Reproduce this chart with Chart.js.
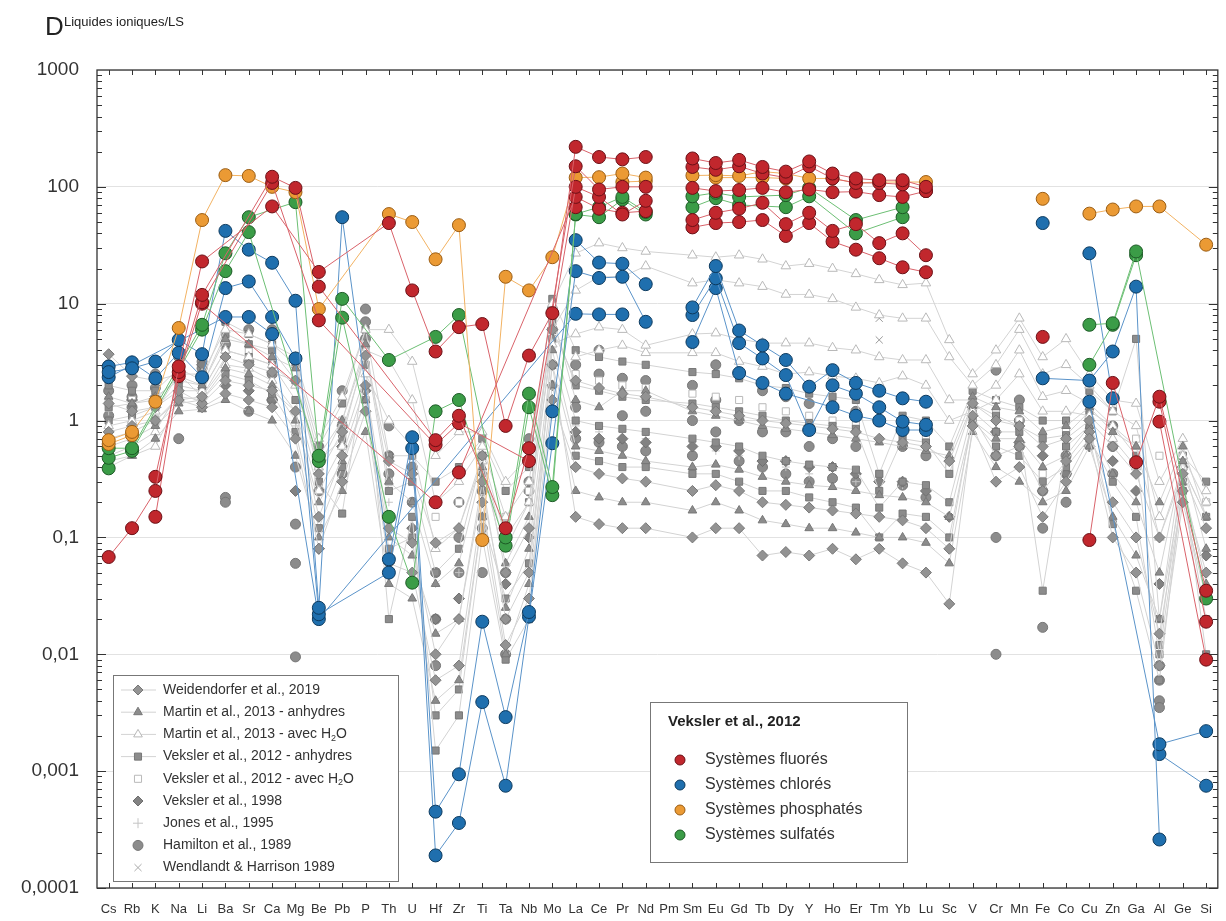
<!DOCTYPE html>
<html>
<head>
<meta charset="utf-8">
<script src="https://cdn.jsdelivr.net/npm/chart.js@4.4.1/dist/chart.umd.min.js"></script>
<style>
  html, body { margin: 0; background: #fff; }
  #wrap { width: 1226px; height: 921px; position: relative; }
</style>
</head>
<body>
<div id="wrap"><canvas id="c"></canvas></div>
<script>
const _ = null;

// x categories
const elements = ["Cs","Rb","K","Na","Li","Ba","Sr","Ca","Mg","Be","Pb","P",
  "Th","U","Hf","Zr","Ti","Ta","Nb","Mo","La","Ce","Pr","Nd",
  "Pm","Sm","Eu","Gd","Tb","Dy","Y","Ho","Er","Tm","Yb","Lu",
  "Sc","V","Cr","Mn","Fe","Co","Cu","Zn","Ga","Al","Ge","Si"];

// y ticks
const yTickValues = [1000, 100, 10, 1, 0.1, 0.01, 0.001, 0.0001];
const yTickLabels = ["1000", "100", "10", "1", "0,1", "0,01", "0,001", "0,0001"];

// Veksler et al., 2012 - systèmes fluorés
const fluo1 = [.068,.12,.25,2.9,23,_,_,68,_,18.7,_,_,
  49,13,3.9,6.3,6.7,.9,3.6,8.3,220,180,172,180,
  _,175,160,170,148,135,165,130,118,114,114,100,
  _,_,_,_,_,_,.095,2.1,.44,1.6,_,.035];
const fluo2 = [_,_,.33,2.6,11.9,_,_,122,98,14,_,_,
  _,_,.68,1.1,_,.12,.58,_,150,95,100,100,
  _,148,140,150,130,120,150,118,108,108,105,92,
  _,_,_,_,_,_,_,_,_,1.45,_,.019];
const fluo3 = [_,_,.15,2.4,10.3,_,_,108,_,7.2,_,_,
  _,_,.62,.95,_,_,.45,_,100,82,58,76,
  _,98,92,94,98,90,95,90,91,85,82,92,
  _,_,_,_,_,_,_,_,_,.98,_,.009];
const fluo4 = [_,_,_,_,10,_,_,_,_,_,_,_,
  _,_,.2,.36,_,_,_,_,82,65,60,62,
  _,52,60,65,73,48,60,42,48,33,40,26,
  _,_,_,_,5.2,_,_,_,_,_,_,_];
const fluo5 = [_,_,_,_,_,_,_,_,_,_,_,_,
  _,_,_,_,_,_,_,_,67,_,_,_,
  _,45,49,50,52,38,49,34,29,24.5,20.5,18.6,
  _,_,_,_,_,_,_,_,_,_,_,_];

// systèmes chlorés
const chlo1 = [2.6,2.8,3.2,4.9,3.7,42,29,22.4,10.6,.025,55,_,
  .065,.72,.00045,.00094,.019,.0029,.023,1.2,35,22.5,22,14.7,
  _,9.3,21,5.9,4.4,3.3,1.95,2.7,2.1,1.8,1.55,1.45,
  _,_,_,_,_,_,27,1.55,_,_,_,_];
const chlo2 = [2.9,3.15,2.3,3.8,2.35,13.6,15.5,7.7,3.4,.022,_,_,
  .05,.58,.00019,.00036,.0039,.00075,.021,.64,19,16.6,17,7,
  _,8,16.5,4.6,3.4,2.45,.83,2,1.7,1.3,.98,.92,
  _,_,_,_,2.3,_,2.2,3.9,14,.00026,_,_];
const chlo3 = [2.35,_,_,_,_,7.7,7.7,5.5,_,.02,_,_,
  _,_,_,_,_,_,_,_,8.2,8.1,8.1,_,
  _,4.7,13.6,2.55,2.1,1.7,_,1.3,1.1,1,.83,.83,
  _,_,_,_,_,_,1.45,_,_,.0017,_,.0022];
const chlo4 = [_,_,_,_,_,_,_,_,_,_,_,_,
  _,_,_,_,_,_,_,_,_,_,_,_,
  _,_,_,_,_,_,_,_,_,_,_,_,
  _,_,_,_,49,_,_,_,_,_,_,_];
const chlo5 = [_,_,_,_,_,_,_,_,_,_,_,_,
  _,_,_,_,_,_,_,_,_,_,_,_,
  _,_,_,_,_,_,_,_,_,_,_,_,
  _,_,_,_,_,_,_,_,_,.0014,_,.00075];

// systèmes phosphatés
const phos1 = [.68,.8,1.45,6.2,52,126,124,100,90,9,_,_,
  58.5,50,24,47,.095,17,13,25,120,121,130,120,
  _,125,126,124,135,130,118,118,108,110,110,110,
  _,_,_,_,_,_,59,64,68,68,_,32];
const phos2 = [.63,.75,_,_,_,_,_,_,_,_,_,_,
  _,_,_,_,_,_,_,_,_,_,_,_,
  _,_,_,_,_,_,_,_,_,_,_,_,
  _,_,_,_,_,_,_,_,_,_,_,_];
const phos3 = [_,_,_,_,_,_,_,_,_,_,_,_,
  _,_,_,_,_,_,_,_,_,_,110,112,
  _,_,120,_,120,118,_,_,_,_,_,_,
  _,_,_,_,79,_,_,_,_,_,_,_];

// systèmes sulfatés
const sulf1 = [.58,.58,_,_,6.6,27,55,_,74,.5,11,_,
  3.3,_,5.2,8,_,.1,1.7,.27,58.5,67,82,61,
  _,83,89,82,_,85,98,_,52,_,67,_,
  _,_,_,_,_,_,6.6,6.8,28,_,_,.03];
const sulf2 = [.48,.55,_,_,6,19,41,_,_,.45,7.6,_,
  .15,.041,1.2,1.5,_,.085,1.3,.23,58,55,78,58,
  _,67,80,70,_,67,83,_,40,_,55,_,
  _,_,_,_,_,_,3,6.6,26,_,_,_];
const sulf3 = [.39,_,_,_,_,_,_,_,_,_,_,_,
  _,_,_,_,_,_,_,_,_,_,_,_,
  _,_,_,_,_,_,_,_,_,_,_,_,
  _,_,_,_,_,_,_,_,_,_,_,_];

// Weidendorfer et al., 2019
const weid1 = [3.7,2.4,2.2,2.5,1.6,3.5,3,2.6,2.2,.35,.8,3.6,
  .45,.35,.09,.12,.5,.05,.12,6,2.2,1.9,1.7,1.6,
  _,1.3,1.2,1.1,1,.95,.9,.85,.8,.7,.65,.6,
  .45,1.4,1,.9,.6,.7,1,.6,.35,.1,.35,.12];
const weid2 = [1.4,1.2,1.3,1.8,1.4,2.2,2,1.8,1.2,.15,.5,2,
  .12,.09,.01,.02,.3,.02,.05,3,.15,.13,.12,.12,
  _,.1,.12,.12,.07,.075,.07,.08,.065,.08,.06,.05,
  .027,.9,.3,.4,.15,.3,.7,.1,.05,.008,.2,.03];
const weid3 = [.8,.9,1,1.5,1.3,1.7,1.5,1.3,.7,.08,.3,1.2,
  .06,.05,.006,.008,.2,.012,.03,1.5,.4,.35,.32,.3,
  _,.25,.28,.25,.2,.19,.18,.17,.16,.15,.14,.12,
  .08,1.1,.5,.6,.25,.45,.8,.2,.1,.015,.25,.05];

// Martin et al., 2013 - anhydres
const martA1 = [1.6,1.4,1.6,2.2,2,5,4.5,3.5,2.8,.5,1,4.5,
  .3,.2,.04,.06,.4,.06,.15,8,1.5,1.3,1.8,1.8,
  _,1.2,1.1,1,.9,.85,.8,.75,.7,.65,.6,.55,
  .5,1.6,1.3,1.2,.8,.9,1.3,.8,.6,.2,.6,.15];
const martA2 = [.6,.7,.9,1.4,1.5,2.8,2.5,2,1,.2,.45,1.5,
  .1,.07,.015,.02,.25,.025,.08,4,.6,.55,.5,.45,
  _,.4,.42,.38,.33,.3,.28,.27,.25,.23,.22,.2,
  .15,1,.7,.7,.4,.5,.9,.35,.2,.05,.45,.08];
const martA3 = [.45,.5,.7,1.2,1.25,1.5,1.2,1,.5,.1,.25,.8,
  .04,.03,.004,.006,.15,.01,.04,2,.25,.22,.2,.2,
  _,.17,.2,.17,.14,.13,.12,.12,.11,.1,.1,.09,
  .06,.8,.4,.3,.2,.25,.6,.15,.07,.02,.3,.04];

// Martin et al., 2013 - avec H2O
const martH1 = [.9,1,1.2,2.5,2.5,6,5.5,4.5,3.5,.7,1.6,6,
  6,3.2,.5,.8,.8,.3,.5,10,27,33,30,28,
  _,26,25,26,24,21,22,20,18,16,14.5,15,
  4.9,2.5,4,7.5,3.5,5,2.5,1.5,1.4,.3,.7,.25];
const martH2 = [.5,.6,.8,1.8,1.8,4,3.5,3,2,.4,1,4,
  3.3,1.5,.2,.3,.6,.15,.3,6,13,17,17,21,
  _,15,16,15,14,12,12,11,9.3,8,7.5,7.5,
  3.5,2,3,6,2.5,3,2,1.2,.9,.15,.5,.2];
const martH3 = [.4,.5,.6,1.5,1.6,3,2.8,2.2,1.2,.25,.6,2.5,
  1,.6,.08,.12,.45,.08,.2,4.5,5.5,6.3,6,4.4,
  _,5.5,5.6,5,4.6,4.6,4.6,4.2,4,3.5,3.3,3.3,
  1.5,1.5,2,4,1.6,1.8,1.4,.9,.6,.1,.4,.15];
const martH4 = [_,_,_,_,_,_,_,_,_,_,_,_,
  _,_,_,_,_,_,_,_,3.5,4,4.4,3.8,
  _,3.8,3.8,3.2,2.9,2.5,2.6,2.4,2.3,2.1,2.4,2,
  1,1.2,1.5,2.5,1.2,1.2,1.1,.7,.4,_,_,_];

// Veksler et al., 2012 - anhydres
const veksA1 = [2,1.8,1.8,2.8,2.2,7,5.5,4.5,3,.6,1.4,6,
  .5,.5,.3,.4,.7,.25,.4,11,4,3.5,3.2,3,
  _,2.6,2.5,2.3,2,1.9,1.7,1.6,1.5,.35,1.1,1,
  .6,1.8,1.5,1.3,1,1,1.8,1.2,5,.02,.5,.3];
const veksA2 = [1,1.1,1.3,2,1.8,4,3.5,3,1.5,.3,.16,3,
  .02,.15,.0015,.003,.1,.009,.02,5,1,.9,.85,.8,
  _,.7,.65,.6,.5,.45,.42,.4,.38,.18,.3,.28,
  .2,1.2,.8,.8,.035,.6,.9,.13,.035,.006,.3,.01];
const veksA3 = [.7,.8,1,1.6,1.5,2.5,2.2,1.7,.8,.12,.4,1.5,
  .08,.1,.003,.005,.15,.03,.06,3,.5,.45,.4,.4,
  _,.35,.35,.3,.25,.25,.22,.2,.18,.1,.16,.15,
  .1,1,.6,.5,.3,.4,.7,.3,.15,.01,.25,.02];
const veksA4 = [1.3,1.4,1.5,2.4,2,5.5,4.5,4,2.2,.45,.7,4,
  .25,.3,.05,.08,.5,.1,.2,7,2,1.8,1.6,1.5,
  _,1.4,1.3,1.2,1.1,1,.95,.9,.85,.25,.7,.65,
  .35,1.4,1.1,.9,.7,.75,1.2,.9,.5,.012,.4,.15];

// Veksler et al., 2012 - avec H2O
const veksH1 = [1.5,1.5,1.5,2.3,2,5,4,3.5,2.5,.4,1,4.5,
  .3,.3,.15,.2,.5,.15,.25,8,2.5,2.2,2,1.9,
  _,1.7,1.6,1.5,1.3,1.2,1.1,1,.95,.35,.8,.7,
  .4,1.5,1.2,1,.35,.8,1.4,1.3,.7,.5,.5,.2];

// Veksler et al., 1998
const veks98 = [2.5,1.5,1.6,3,3,2,1.8,1.5,.25,.08,.6,1.8,
  .15,.12,.02,.03,.35,.04,.1,2,.8,.7,.7,.65,
  _,.6,.6,.55,.45,.45,.4,.4,.35,.3,.3,.25,
  .15,1.3,.8,.65,.5,.35,.6,.45,.25,.04,.4,.07];

// Jones et al., 1995
const jones95 = [1.2,1.1,1.1,1.7,_,2.5,2.3,1.6,.9,_,_,_,
  .2,.2,.04,.05,.3,.06,.1,_,.9,.8,_,.7,
  _,.6,.55,.5,_,.4,.35,_,.3,_,.28,.25,
  .2,_,_,_,_,_,_,_,_,_,_,_];

// Hamilton et al., 1989
const ham1 = [1.1,1.3,1.5,.7,2.5,.2,1.2,1.5,.06,.5,.9,9,
  .9,.7,.008,.05,.05,.01,.7,3,1.3,4,1.1,1.2,
  _,1,1.5,1,.8,.8,.6,.7,.6,_,.6,.5,
  _,_,.01,1,.017,.2,_,.6,_,.0035,_,_];
const ham2 = [3,2,2.5,3.5,3.2,.22,6,6,.13,.6,1.8,7,
  .5,.2,.05,.2,.12,.05,.3,9,3,2.5,2.3,2.2,
  _,2,3,2.5,1.8,1.6,1.4,1.3,1.2,_,1,.9,
  _,_,.1,1.5,.12,.5,_,.9,_,.006,_,_];
const ham3 = [_,_,_,_,_,_,_,_,.0095,_,_,_,
  _,_,_,_,_,_,_,_,_,_,_,_,
  _,_,_,_,_,_,_,_,_,_,_,_,
  _,_,2.7,_,_,_,_,_,_,.008,_,_];
const ham4 = [1.8,1.6,1.9,2.8,2.8,4.5,3.2,2.5,.4,.25,.35,5,
  .35,.4,.02,.1,.25,.02,.25,6,.7,.65,.6,.55,
  _,.5,.8,.45,.4,.35,.3,.32,.3,_,.28,.22,
  _,_,.5,.6,.25,.35,_,.35,_,.004,_,_];

// Wendlandt & Harrison 1989
const wend1 = [_,_,_,_,_,_,_,_,_,_,_,_,
  _,_,_,_,_,_,_,_,_,_,_,_,
  _,_,_,_,_,_,_,_,_,7.5,_,_,
  _,_,_,_,_,_,_,_,_,_,_,_];
const wend2 = [_,_,_,_,_,_,_,_,_,_,_,_,
  _,_,_,_,_,_,_,_,_,_,_,_,
  _,_,_,_,_,_,_,_,_,4.9,_,_,
  _,_,_,_,_,_,_,_,_,_,_,_];

const RED = ["#c1272d", "#6b1016", "#d9626a"];
const BLUE = ["#1f6fae", "#0d3a5e", "#5a93c9"];
const ORANGE = ["#eb9a34", "#9a5d14", "#f2b262"];
const GREEN = ["#3b9c47", "#1d5a26", "#6cbf74"];
const GREY = "#8c8c8c", GREY_EDGE = "#777", GREY_LIGHT = "#b9b9b9", GREY_LINE = "#d3d3d3";

// coloured series are drawn in three separate runs: Cs–Nd, Sm–Lu, Sc–Si
const runs = [[0, 23], [25, 35], [36, 47]];

function colored(data, col) {
  return runs.map(([a, b]) => ({
    data: data.map((v, i) => (i >= a && i <= b) ? v : null),
    borderColor: col[2], borderWidth: 1, backgroundColor: col[0],
    pointBackgroundColor: col[0], pointBorderColor: col[1], pointBorderWidth: 1,
    pointRadius: 6.5, pointStyle: "circle", spanGaps: true, order: 0
  }));
}
function grey(data, style, fill, edge, line, r) {
  return {
    data, showLine: line, borderColor: GREY_LINE, borderWidth: 1, backgroundColor: fill,
    pointBackgroundColor: fill, pointBorderColor: edge, pointBorderWidth: 1,
    pointRadius: r || 5, pointStyle: style, spanGaps: true, order: 1
  };
}

const datasets = [
  ...[fluo1, fluo2, fluo3, fluo4, fluo5].flatMap(d => colored(d, RED)),
  ...[phos1, phos2, phos3].flatMap(d => colored(d, ORANGE)),
  ...[sulf1, sulf2, sulf3].flatMap(d => colored(d, GREEN)),
  ...[chlo1, chlo2, chlo3, chlo4, chlo5].flatMap(d => colored(d, BLUE)),
  ...[weid1, weid2, weid3].map(d => grey(d, "rectRot", "#939393", GREY_EDGE, true, 5.5)),
  ...[martA1, martA2, martA3].map(d => grey(d, "triangle", GREY, GREY_EDGE, true)),
  ...[martH1, martH2, martH3, martH4].map(d => grey(d, "triangle", "#fff", GREY_LIGHT, true, 5.5)),
  ...[veksA1, veksA2, veksA3, veksA4].map(d => grey(d, "rect", GREY, GREY_EDGE, true)),
  grey(veksH1, "rect", "#fff", GREY_LIGHT, false),
  grey(veks98, "rectRot", "#828282", "#6e6e6e", false, 5.5),
  grey(jones95, "cross", "#c4c4c4", "#c4c4c4", false, 4),
  ...[ham1, ham2, ham3, ham4].map(d => grey(d, "circle", GREY, GREY_EDGE, false)),
  ...[wend1, wend2].map(d => grey(d, "crossRot", "#999", "#999", false, 5))
];

// legends
const legendLeft = [
  ["Weidendorfer et al., 2019", "rectRot", "#939393", GREY_EDGE, true],
  ["Martin et al., 2013 - anhydres", "triangle", GREY, GREY_EDGE, true],
  ["Martin et al., 2013 - avec H₂O", "triangle", "#fff", GREY_LIGHT, true],
  ["Veksler et al., 2012 - anhydres", "rect", GREY, GREY_EDGE, true],
  ["Veksler et al., 2012 - avec H₂O", "rect", "#fff", GREY_LIGHT, false],
  ["Veksler et al., 1998", "rectRot", "#828282", "#6e6e6e", false],
  ["Jones et al., 1995", "cross", "#c4c4c4", "#c4c4c4", false],
  ["Hamilton et al., 1989", "circle", GREY, GREY_EDGE, false],
  ["Wendlandt & Harrison 1989", "crossRot", "#aaa", "#aaa", false]
];
const legendRightTitle = "Veksler et al., 2012";
const legendRight = [
  ["Systèmes fluorés", RED],
  ["Systèmes chlorés", BLUE],
  ["Systèmes phosphatés", ORANGE],
  ["Systèmes sulfatés", GREEN]
];

const FONT = '"Liberation Sans", Arial, sans-serif';
const isDecade = v => Math.abs(Math.log10(v) - Math.round(Math.log10(v))) < 1e-6;

function seg(ctx, x1, y1, x2, y2) { ctx.beginPath(); ctx.moveTo(x1, y1); ctx.lineTo(x2, y2); ctx.stroke(); }

function textWithSub(ctx, s, x, y) {
  const parts = s.split("₂");
  ctx.fillText(parts[0], x, y);
  if (parts.length < 2) return;
  let cx = x + ctx.measureText(parts[0]).width;
  const f = ctx.font;
  ctx.font = "9px " + FONT;
  ctx.fillText("2", cx, y + 4);
  cx += ctx.measureText("2").width;
  ctx.font = f;
  ctx.fillText(parts[1], cx, y);
}

const deco = {
  id: "deco",
  afterDraw(chart) {
    const { ctx, chartArea: a, scales: { x, y } } = chart;
    ctx.save();
    ctx.strokeStyle = "#333";
    ctx.lineWidth = 1;
    // minor / major ticks on y, inside the frame
    for (let e = -4; e < 3; e++) {
      for (let m = 1; m <= 9; m++) {
        const py = Math.round(y.getPixelForValue(m * Math.pow(10, e))) + 0.5;
        const L = m === 1 ? 9 : 5;
        seg(ctx, a.left, py, a.left + L, py);
        seg(ctx, a.right, py, a.right - L, py);
      }
    }
    // x ticks top and bottom
    elements.forEach((el, i) => {
      const px = Math.round(x.getPixelForValue(i)) + 0.5;
      seg(ctx, px, a.bottom, px, a.bottom - 5);
      seg(ctx, px, a.top, px, a.top + 5);
    });
    // frame
    ctx.lineWidth = 1.3;
    ctx.strokeRect(a.left, a.top, a.right - a.left, a.bottom - a.top);

    // title
    ctx.fillStyle = "#222";
    ctx.textBaseline = "alphabetic";
    ctx.font = "26px " + FONT;
    ctx.fillText("D", 45, 35);
    ctx.font = "13px " + FONT;
    ctx.fillText("Liquides ioniques/LS", 64, 26);

    // left legend
    ctx.fillStyle = "#fff";
    ctx.fillRect(113, 675, 285, 206);
    ctx.strokeStyle = "#777";
    ctx.lineWidth = 1;
    ctx.strokeRect(113.5, 675.5, 285, 206);
    ctx.font = "14px " + FONT;
    ctx.textBaseline = "middle";
    legendLeft.forEach((it, i) => {
      const yy = 690 + i * 22.2;
      if (it[4]) { ctx.strokeStyle = GREY_LINE; seg(ctx, 121, yy, 156, yy); }
      ctx.fillStyle = it[2];
      ctx.strokeStyle = it[3];
      Chart.helpers.drawPoint(ctx, { pointStyle: it[1], radius: 5, borderWidth: 1, rotation: 0 }, 138, yy);
      ctx.fillStyle = "#333";
      textWithSub(ctx, it[0], 163, yy);
    });

    // right legend
    ctx.fillStyle = "#fff";
    ctx.fillRect(650, 702, 257, 160);
    ctx.strokeStyle = "#777";
    ctx.strokeRect(650.5, 702.5, 257, 160);
    ctx.fillStyle = "#222";
    ctx.font = "bold 15px " + FONT;
    ctx.fillText(legendRightTitle, 668, 722);
    ctx.font = "16px " + FONT;
    legendRight.forEach((it, i) => {
      const yy = 760 + i * 25;
      ctx.fillStyle = it[1][0];
      ctx.strokeStyle = it[1][1];
      Chart.helpers.drawPoint(ctx, { pointStyle: "circle", radius: 5, borderWidth: 0.5, rotation: 0 }, 680, yy);
      ctx.fillStyle = "#333";
      ctx.fillText(it[0], 705, yy);
    });
    ctx.restore();
  }
};

new Chart(document.getElementById("c"), {
  type: "line",
  data: { labels: elements, datasets },
  options: {
    responsive: true,
    maintainAspectRatio: false,
    animation: false,
    layout: { padding: { top: 70, right: 7, bottom: 0, left: 0 } },
    elements: { line: { tension: 0 } },
    plugins: { legend: { display: false }, tooltip: { enabled: false } },
    scales: {
      x: {
        type: "category",
        offset: true,
        grid: { display: false, drawTicks: false },
        border: { display: false },
        ticks: { autoSkip: false, maxRotation: 0, padding: 14, color: "#333", font: { size: 13, family: FONT } },
        afterFit: s => { s.height = 33; }
      },
      y: {
        type: "logarithmic",
        min: 0.0001,
        max: 1000,
        border: { display: false },
        grid: {
          drawTicks: false,
          color: c => (c.tick && isDecade(c.tick.value)) ? "#e2e2e2" : "rgba(0,0,0,0)",
          lineWidth: 1
        },
        ticks: {
          autoSkip: false,
          padding: 18,
          color: "#333",
          font: { size: 19, family: FONT },
          callback: v => {
            const i = yTickValues.findIndex(t => Math.abs(t - v) / t < 1e-6);
            return i >= 0 ? yTickLabels[i] : "";
          }
        },
        afterFit: s => { s.width = 97; }
      }
    }
  },
  plugins: [deco]
});
</script>
</body>
</html>
